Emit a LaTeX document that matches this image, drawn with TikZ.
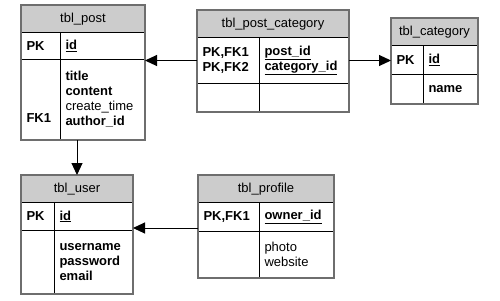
\documentclass[tikz,border=0pt]{standalone}
\usepackage{fontspec}
\setmainfont{Liberation Sans}
\usetikzlibrary{arrows.meta}
\definecolor{headgray}{RGB}{204,204,204}
\definecolor{framegray}{RGB}{110,110,110}

\begin{document}
\begin{tikzpicture}[x=1pt, y=-1pt,
cell/.style={draw, line width=1pt, anchor=north west, inner xsep=5pt, inner ysep=0pt, align=left, font=\fontsize{13}{15}\selectfont},
head/.style={cell, fill=headgray, align=center},
frame/.style={draw=framegray, line width=2pt},
fk/.style={-{Triangle[length=12pt,width=11pt]}, line width=1pt}
]
\useasboundingbox (0,0) rectangle (500,300);

% tbl_post
\node[head, text width=113pt, minimum height=27pt] (post-head) at (21,5) {tbl\_post};
\node[cell, text width=29pt, minimum height=27pt] (post-pk) at (21,32) {\textbf{PK}};
\node[cell, text width=74pt, minimum height=27pt] (post-pkcol) at (60,32) {\textbf{\underline{id}}};
\node[cell, text width=29pt, minimum height=80pt] (post-key) at (21,59) {\mbox{}\\\mbox{}\\\mbox{}\\\textbf{FK1}};
\node[cell, text width=74pt, minimum height=80pt] (post-col) at (60,59) {\textbf{title}\\\textbf{content}\\create\_time\\\textbf{author\_id}};
\draw[frame] (post-head.north west) rectangle (post-col.south east);

% tbl_post_category
\node[head, text width=141pt, minimum height=27pt] (pc-head) at (197,10) {tbl\_post\_category};
\node[cell, text width=52pt, minimum height=46pt] (pc-key) at (197,37) {\textbf{PK,FK1}\\\textbf{PK,FK2}};
\node[cell, text width=79pt, minimum height=46pt] (pc-col) at (259,37) {\textbf{\underline{post\_id}}\\\textbf{\underline{category\_id}}};
\node[cell, text width=52pt, minimum height=28pt] (pc-key2) at (197,83) {};
\node[cell, text width=79pt, minimum height=28pt] (pc-col2) at (259,83) {};
\draw[frame] (pc-head.north west) rectangle (pc-col2.south east);

% tbl_category
\node[head, text width=76pt, minimum height=27pt] (cat-head) at (391,18) {tbl\_category};
\node[cell, text width=22pt, minimum height=29pt] (cat-pk) at (391,45) {\textbf{PK}};
\node[cell, text width=44pt, minimum height=29pt] (cat-pkcol) at (423,45) {\textbf{\underline{id}}};
\node[cell, text width=22pt, minimum height=29pt] (cat-key) at (391,74) {};
\node[cell, text width=44pt, minimum height=29pt] (cat-col) at (423,74) {\textbf{name}};
\draw[frame] (cat-head.north west) rectangle (cat-col.south east);

% tbl_user
\node[head, text width=101pt, minimum height=27pt] (user-head) at (21,175) {tbl\_user};
\node[cell, text width=23pt, minimum height=28pt] (user-pk) at (21,202) {\textbf{PK}};
\node[cell, text width=68pt, minimum height=28pt] (user-pkcol) at (54,202) {\textbf{\underline{id}}};
\node[cell, text width=23pt, minimum height=63pt] (user-key) at (21,230) {};
\node[cell, text width=68pt, minimum height=63pt] (user-col) at (54,230) {\textbf{username}\\\textbf{password}\\\textbf{email}};
\draw[frame] (user-head.north west) rectangle (user-col.south east);

% tbl_profile
\node[head, text width=125pt, minimum height=27pt] (prof-head) at (198,175) {tbl\_profile};
\node[cell, text width=51pt, minimum height=29pt] (prof-pk) at (198,202) {\textbf{PK,FK1}};
\node[cell, text width=64pt, minimum height=29pt] (prof-pkcol) at (259,202) {\textbf{\underline{owner\_id}}};
\node[cell, text width=51pt, minimum height=46pt] (prof-key) at (198,231) {};
\node[cell, text width=64pt, minimum height=46pt] (prof-col) at (259,231) {photo\\website};
\draw[frame] (prof-head.north west) rectangle (prof-col.south east);

% references
\coordinate (prof-out) at ([yshift=4pt]prof-pk.south west);
\draw[fk] (pc-key.west) -- (pc-key.west -| post-col.east);
\draw[fk] (pc-col.east) -- (pc-col.east -| cat-pk.west);
\draw[fk] (user-head.north |- post-col.south) -- (user-head.north);
\draw[fk] (prof-out) -- (prof-out -| user-pkcol.east);
\end{tikzpicture}
\end{document}
